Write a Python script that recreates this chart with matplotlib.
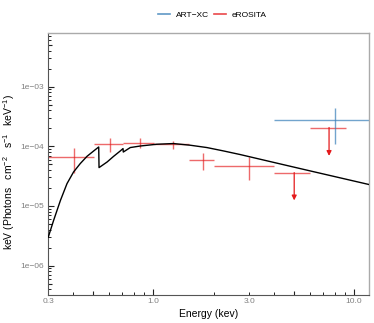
import matplotlib
matplotlib.use('Agg')
import matplotlib.pyplot as plt
from matplotlib.ticker import FixedLocator, FixedFormatter, NullFormatter

plt.rcParams['font.family'] = ['Liberation Sans', 'DejaVu Sans']
plt.rcParams['mathtext.fontset'] = 'custom'
plt.rcParams['mathtext.rm'] = 'Liberation Sans'
plt.rcParams['mathtext.default'] = 'regular'
plt.rcParams['axes.unicode_minus'] = True

# ---- data ----
# eROSITA detections
ero_E = [0.405, 0.611, 0.855, 1.26, 1.76, 3.01]
ero_Elo = [0.30, 0.509, 0.707, 1.01, 1.51, 2.0]
ero_Ehi = [0.509, 0.707, 1.01, 1.51, 2.0, 4.01]
ero_F = [6.6e-5, 1.08e-4, 1.15e-4, 1.08e-4, 5.98e-5, 4.67e-5]
ero_Flo = [3.5e-5, 8.0e-5, 9.4e-5, 8.9e-5, 4.07e-5, 2.76e-5]
ero_Fhi = [9.2e-5, 1.36e-4, 1.40e-4, 1.23e-4, 7.8e-5, 6.6e-5]
# eROSITA upper limits
ul_E = [5.03, 7.5]
ul_Elo = [4.01, 6.04]
ul_Ehi = [6.04, 9.1]
ul_F = [3.62e-5, 2.06e-4]
ul_tip = [1.24e-5, 6.9e-5]
# ART-XC
art_E = [8.04]
art_Elo = [4.01]
art_Ehi = [11.9]
art_F = [2.73e-4]
art_Flo = [1.11e-4]
art_Fhi = [4.4e-4]
# model curve
model_E = [0.300, 0.319, 0.345, 0.372, 0.401, 0.433, 0.468, 0.505, 0.535, 0.537,
           0.589, 0.635, 0.685, 0.707, 0.709, 0.768, 0.862, 1.04, 1.26, 1.53,
           1.85, 2.24, 2.71, 4.01, 6.03, 11.9]
model_F = [3.0e-6, 5.73e-6, 1.24e-5, 2.37e-5, 3.71e-5, 5.13e-5, 6.79e-5, 8.34e-5, 9.73e-5, 4.39e-5,
           5.45e-5, 6.79e-5, 8.34e-5, 9.15e-5, 8.0e-5, 9.51e-5, 1.01e-4, 1.08e-4, 1.11e-4, 1.04e-4,
           9.51e-5, 8.34e-5, 7.26e-5, 5.33e-5, 3.87e-5, 2.28e-5]

y_label_pos = [1e-6, 1e-5, 1e-4, 1e-3]
y_labels = ['1e\u221206', '1e\u221205', '1e\u221204', '1e\u221203']

RED = '#e41a1c'
BLUE = '#377eb8'

fig = plt.figure(figsize=(3.74, 3.23), dpi=100)
ax = fig.add_axes([0.129, 0.0867, 0.8585, 0.8103])
ax.set_xscale('log')
ax.set_yscale('log')
ax.set_xlim(0.3, 11.9)
ax.set_ylim(3.23e-7, 7.8e-3)

# model
ax.plot(model_E, model_F, color='black', lw=1.0, zorder=3)

# eROSITA error bars
xerr = [[e - lo for e, lo in zip(ero_E, ero_Elo)], [hi - e for e, hi in zip(ero_E, ero_Ehi)]]
yerr = [[f - lo for f, lo in zip(ero_F, ero_Flo)], [hi - f for f, hi in zip(ero_F, ero_Fhi)]]
ax.errorbar(ero_E, ero_F, xerr=xerr, yerr=yerr, fmt='none', ecolor=RED, alpha=0.65,
            elinewidth=1.0, capsize=0, zorder=2)
# upper limits
ax.hlines(ul_F, ul_Elo, ul_Ehi, color=RED, alpha=0.65, lw=1.0, zorder=2)
for e, f, t in zip(ul_E, ul_F, ul_tip):
    ax.annotate('', xy=(e, t), xytext=(e, f),
                arrowprops=dict(arrowstyle='-|>', color=RED, lw=0.9, mutation_scale=7,
                                shrinkA=0, shrinkB=0), zorder=2)
# ART-XC
axerr = [[e - lo for e, lo in zip(art_E, art_Elo)], [hi - e for e, hi in zip(art_E, art_Ehi)]]
ayerr = [[f - lo for f, lo in zip(art_F, art_Flo)], [hi - f for f, hi in zip(art_F, art_Fhi)]]
ax.errorbar(art_E, art_F, xerr=axerr, yerr=ayerr, fmt='none', ecolor=BLUE, alpha=0.7,
            elinewidth=1.0, capsize=0, zorder=2)

# spines
for s in ['top', 'right']:
    ax.spines[s].set_color('#aaaaaa')
    ax.spines[s].set_linewidth(1.0)
for s in ['left', 'bottom']:
    ax.spines[s].set_color('#555555')
    ax.spines[s].set_linewidth(0.8)

# x ticks: long at decades, short at others; labels at 0.3, 1, 3, 10
ax.xaxis.set_major_locator(FixedLocator([1.0, 10.0]))
ax.xaxis.set_major_formatter(FixedFormatter(['1.0', '10.0']))
ax.xaxis.set_minor_locator(FixedLocator([0.3, 0.4, 0.6, 0.7, 0.8, 0.9, 2, 3, 4, 6, 7, 8, 9]))
ax.xaxis.set_minor_formatter(FixedFormatter(['0.3', '', '', '', '', '', '', '3.0', '', '', '', '', '']))
# y ticks
ax.yaxis.set_major_locator(FixedLocator(y_label_pos))
ax.yaxis.set_major_formatter(FixedFormatter(y_labels))
ymin = []
for d in [1e-7, 1e-6, 1e-5, 1e-4, 1e-3]:
    for m in [2, 3, 4, 6, 7, 8, 9]:
        ymin.append(m * d)
ax.yaxis.set_minor_locator(FixedLocator(ymin))
ax.yaxis.set_minor_formatter(NullFormatter())

ax.tick_params(which='major', direction='in', length=4, width=0.8, color='#222222',
               labelsize=6, labelcolor='#808080')
ax.tick_params(which='minor', direction='in', length=2, width=0.7, color='#222222',
               labelsize=6, labelcolor='#808080')
ax.tick_params(axis='x', which='both', pad=2)
ax.tick_params(axis='y', which='both', pad=3)

# medium ticks at 5s
secx = ax.secondary_xaxis('bottom')
secx.xaxis.set_major_locator(FixedLocator([0.5, 5.0]))
secx.xaxis.set_major_formatter(NullFormatter())
secx.xaxis.set_minor_locator(FixedLocator([]))
secx.tick_params(which='major', direction='in', length=3, width=0.8, color='#222222')
secx.spines['bottom'].set_visible(False)

secy = ax.secondary_yaxis('left')
secy.yaxis.set_major_locator(FixedLocator([5e-7, 5e-6, 5e-5, 5e-4, 5e-3]))
secy.yaxis.set_major_formatter(NullFormatter())
secy.yaxis.set_minor_locator(FixedLocator([]))
secy.tick_params(which='major', direction='in', length=3, width=0.8, color='#222222')
secy.spines['left'].set_visible(False)

ax.set_xlabel('Energy (kev)', fontsize=7.5, labelpad=3)
ax.set_ylabel('keV (Photons   cm$^{\u2212 2}$   s$^{\u2212 1}$   keV$^{\u2212 1}$)', fontsize=7.5)
ax.yaxis.set_label_coords(-0.097, 0.47)

# legend
h1, = ax.plot([], [], color=BLUE, alpha=0.8, lw=1.2)
h2, = ax.plot([], [], color=RED, alpha=0.8, lw=1.2)
fig.legend([h1, h2], ['ART\u2212XC', 'eROSITA'], loc='center', bbox_to_anchor=(0.568, 0.954),
           ncol=2, frameon=False, fontsize=6, handlelength=1.4, columnspacing=0.6,
           handletextpad=0.7)

fig.savefig('out.png', dpi=100)
